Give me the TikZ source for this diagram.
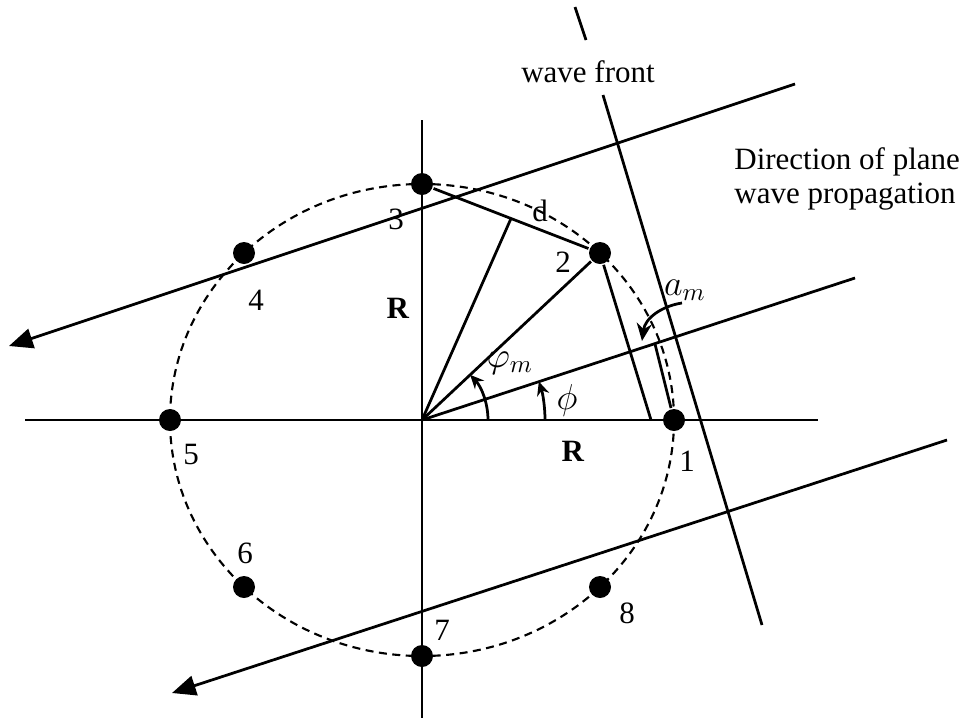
\documentclass[tikz,border=0pt]{standalone}
\usepackage{fontspec}
\setmainfont{Liberation Serif}
\usetikzlibrary{arrows.meta,calc}
\begin{document}
\begin{tikzpicture}[x=0.4pt,y=-0.4pt,
  line width=1.1pt,
  sensor/.style={circle,fill=black,inner sep=0pt,minimum size=8.8pt},
  lbl/.style={inner sep=0pt,font=\fontsize{12.4}{14}\selectfont},
  mlbl/.style={inner sep=0pt,font=\fontsize{14}{16}\selectfont},
  bigarrow/.style={-{Triangle[length=9.5pt,width=8pt]}},
  angarrow/.style={-{Stealth[length=5.5pt,width=5pt]}},
  ring/.style={dash pattern=on 3.2pt off 2.2pt,line width=0.85pt}]
\useasboundingbox (0,0) rectangle (961,721);

% key coordinates
\coordinate (O) at (422,420);
\coordinate (hx1) at (25,420);
\coordinate (hx2) at (818,420);
\coordinate (vy1) at (422,120);
\coordinate (vy2) at (422,718);
\coordinate (uA) at (795,84);
\coordinate (uB) at (9,346);
\coordinate (dirE) at (855,278);
\coordinate (lA) at (947,440);
\coordinate (lB) at (172,693);
\coordinate (wf1) at (603,95);
\coordinate (wf2) at (762,625);
\coordinate (wt1) at (575,7);
\coordinate (wt2) at (586,40);
\coordinate (f2) at (651,420);
\coordinate (f1) at (655,344);

% dashed array circle
\draw[ring] (O) ellipse [x radius=100.8pt, y radius=94.4pt];

% sensors
\node[sensor] (n1) at (674,420) {};
\node[sensor] (n2) at (600,253) {};
\node[sensor] (n3) at (422,184) {};
\node[sensor] (n4) at (244,253) {};
\node[sensor] (n5) at (170,420) {};
\node[sensor] (n6) at (244,587) {};
\node[sensor] (n7) at (422,656) {};
\node[sensor] (n8) at (600,587) {};
\coordinate (M) at ($(n3)!0.5!(n2)$);

% axes
\draw (hx1) -- (hx2);
\draw (vy1) -- (vy2);

% propagation lines
\draw[bigarrow] (uA) -- (uB);
\draw (O) -- (dirE);
\draw[bigarrow] (lA) -- (lB);

% wave front
\draw (wt1) -- (wt2);
\draw (wf1) -- (wf2);

% geometry
\draw (n3) -- (n2);
\draw (O) -- (M);
\draw (O) -- (n2);
\draw (n2) -- (f2);
\draw (n1) -- (f1);

% angle arcs
\draw[angarrow] ($(O)+(123,0)$) arc[start angle=0,end angle=18.2,radius=49.2pt];
\draw[angarrow] ($(O)+(66,0)$) arc[start angle=0,end angle=43.2,radius=26.4pt];
\draw[-{Stealth[length=7pt,width=6pt]}] (682,303) .. controls (662,306) and (645,318) .. (642,341);

% labels
\node[lbl] (l1) at (687,461) {1};
\node[lbl] (l2) at (563,262) {2};
\node[lbl] (l3) at (396,219) {3};
\node[lbl] (l4) at (256,300) {4};
\node[lbl] (l5) at (191,454) {5};
\node[lbl] (l6) at (245,553) {6};
\node[lbl] (l7) at (442,630) {7};
\node[lbl] (l8) at (627,613) {8};
\node[lbl] (ld) at (540,211) {d};
\node[lbl] (lRv) at (398,308) {\textbf{R}};
\node[lbl] (lRh) at (573,451) {\textbf{R}};
\node[mlbl] (lphm) at (510,363) {$\varphi_m$};
\node[mlbl] (lph) at (567,400) {$\phi$};
\node[mlbl] (lam) at (685,290) {$a_m$};
\node[lbl] (lwf) at (588,72) {wave front};
\node[lbl,anchor=west] (ldir1) at (733,162) {Direction of plane};
\node[lbl,anchor=west] (ldir2) at (733,197) {wave propagation};
\end{tikzpicture}
\end{document}
